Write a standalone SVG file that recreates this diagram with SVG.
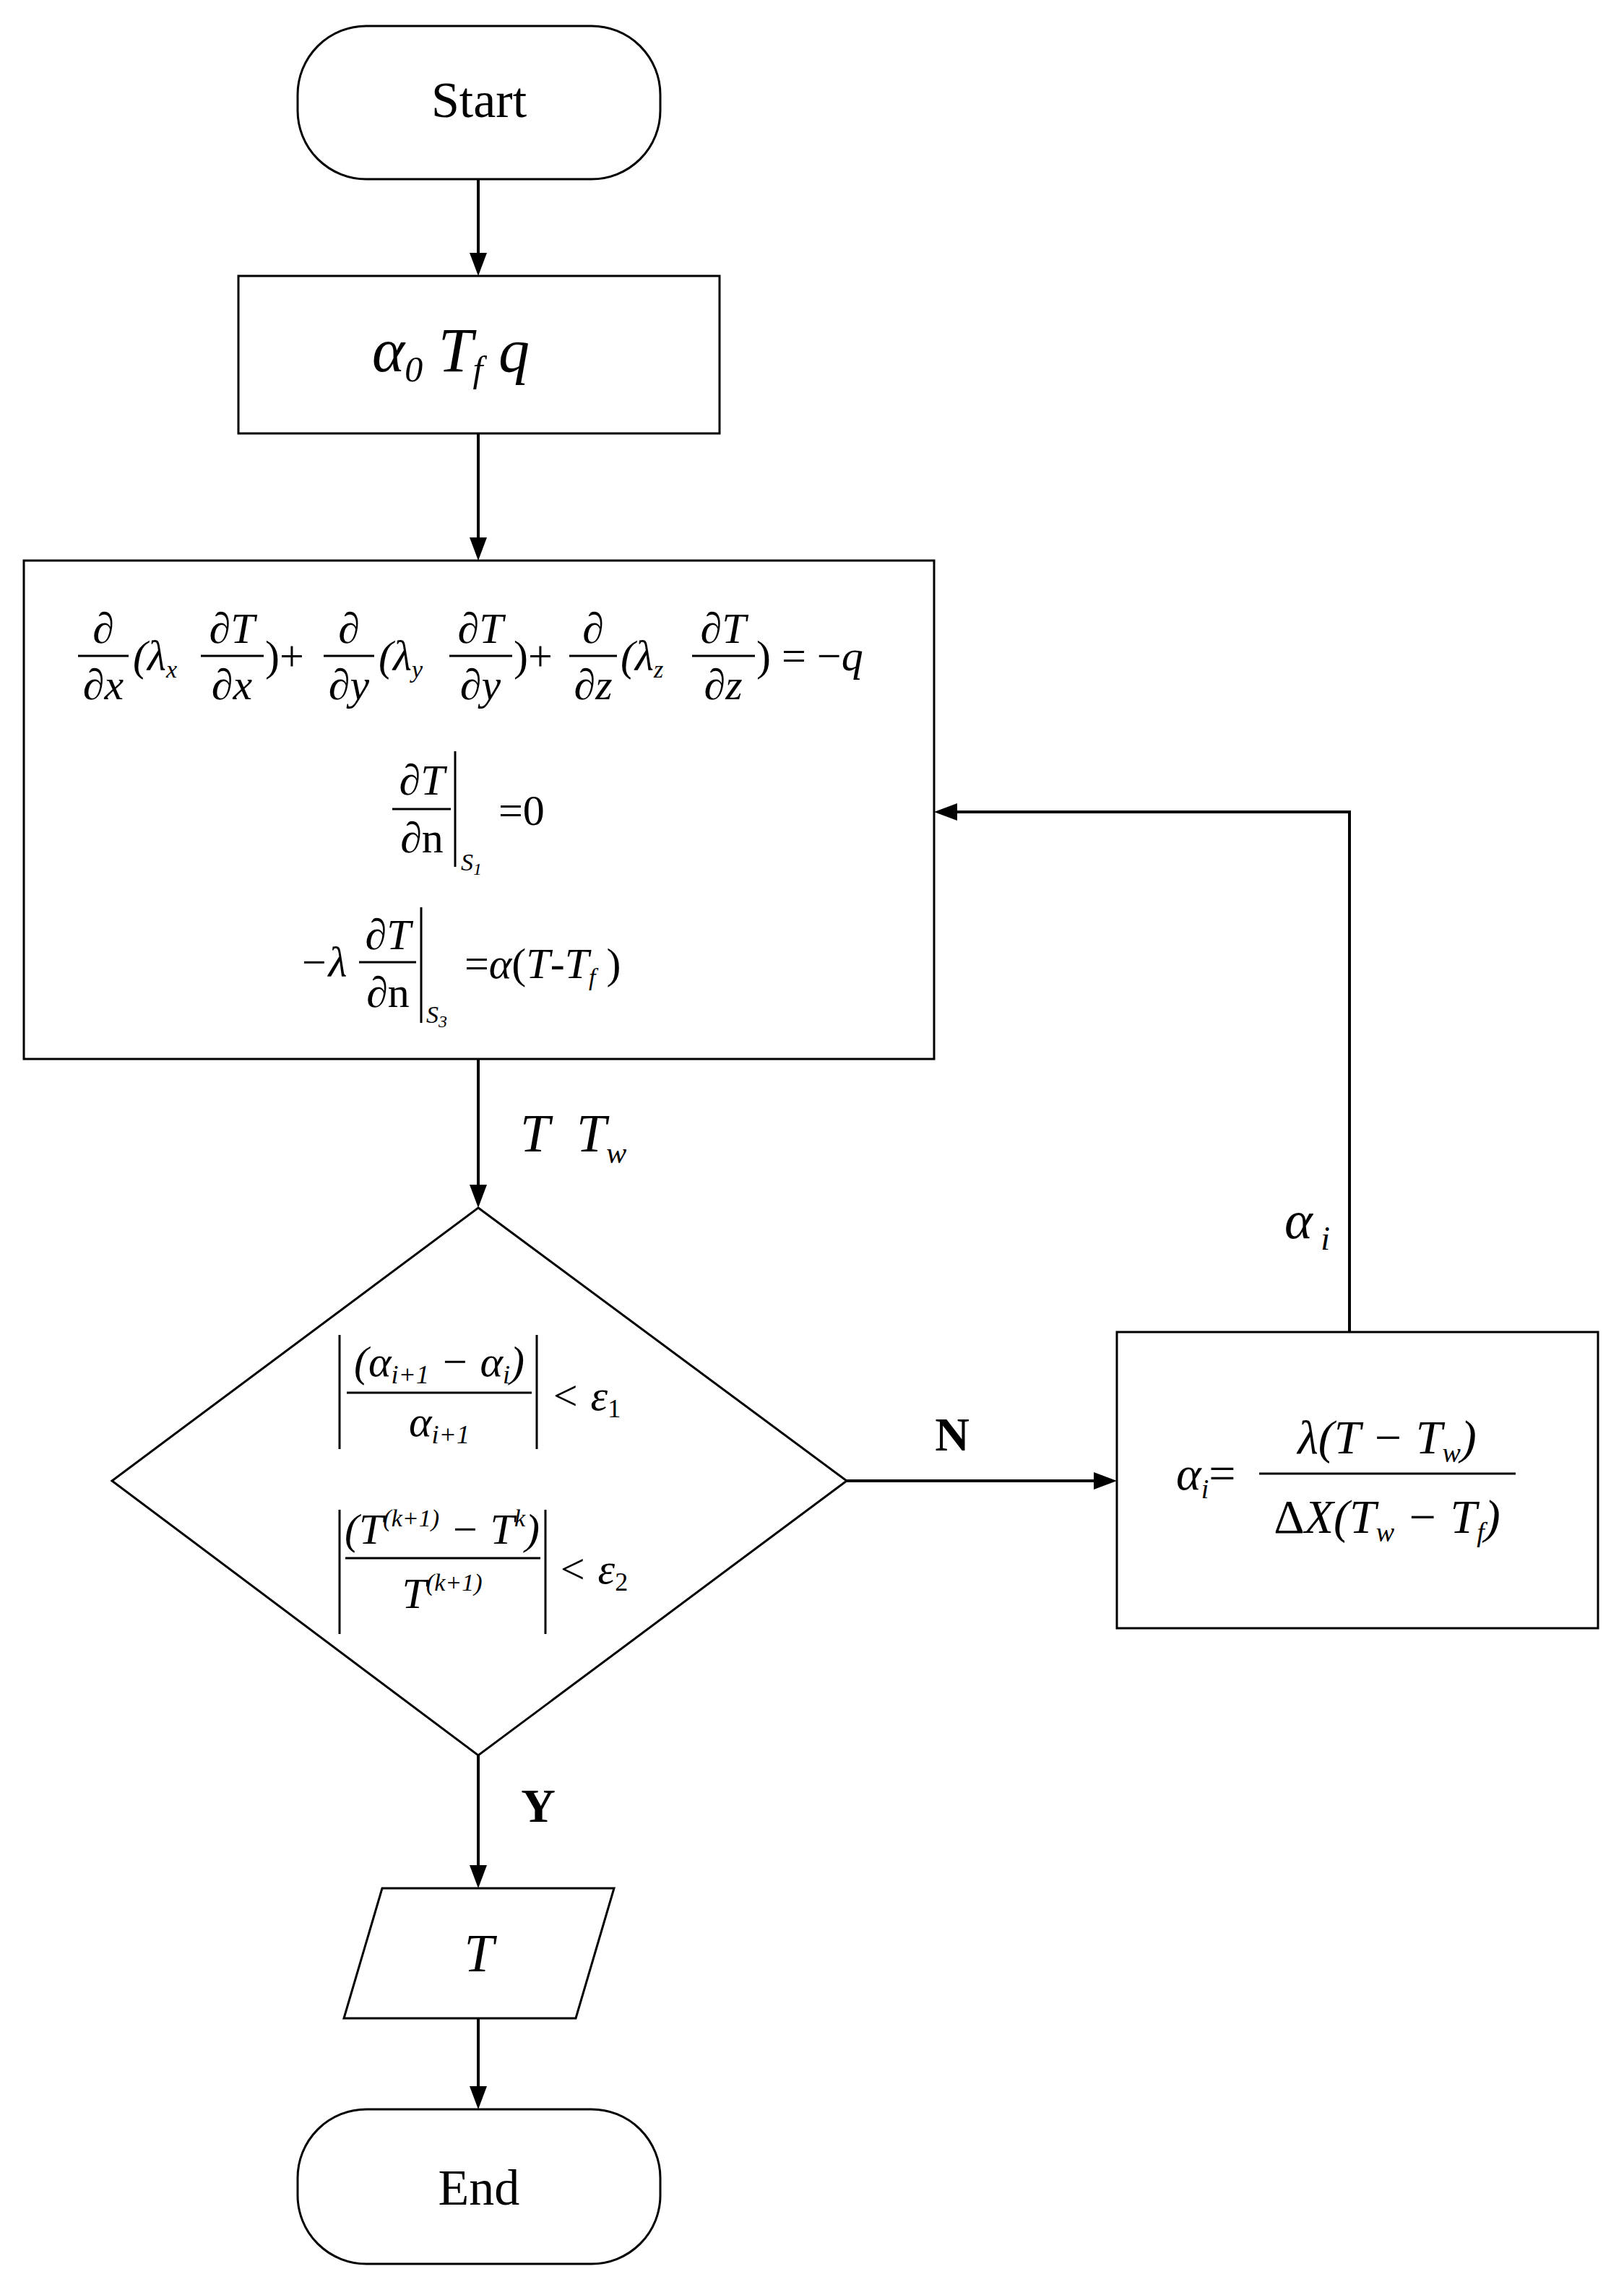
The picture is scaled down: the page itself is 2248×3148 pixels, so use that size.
<svg xmlns="http://www.w3.org/2000/svg" width="2248" height="3148" viewBox="0 0 2248 3148">
<style>
.n{fill:#fff;stroke:#000;stroke-width:3}
.c{fill:none;stroke:#000;stroke-width:4}
.t{font-family:"Liberation Serif",serif;fill:#000}
.i{font-family:"Liberation Serif",serif;font-style:italic;fill:#000}
.b{stroke:#000;stroke-width:3}
</style>
<rect width="2248" height="3148" fill="#fff"/>
<g id="connectors">
<line class="c" x1="662" y1="248" x2="662" y2="372"/>
<line class="c" x1="662" y1="600" x2="662" y2="766"/>
<line class="c" x1="662" y1="1466" x2="662" y2="1662"/>
<line class="c" x1="662" y1="2430" x2="662" y2="2604"/>
<line class="c" x1="662" y1="2794" x2="662" y2="2910"/>
<line class="c" x1="1172" y1="2050" x2="1536" y2="2050"/>
<polyline class="c" points="1868,1844 1868,1124 1303,1124"/>
<path d="M650,350 L674,350 L662,382 z M650,744 L674,744 L662,776 z M650,1640 L674,1640 L662,1672 z M650,2582 L674,2582 L662,2614 z M650,2888 L674,2888 L662,2920 z M1514,2038 L1514,2062 L1546,2050 z M1325,1112 L1325,1136 L1293,1124 z"/>
<text class="i" x="720" y="1594" font-size="74">T</text>
<text class="i" x="798" y="1594" font-size="74">T<tspan font-size="42" dy="16">w</tspan></text>
<text class="i" x="1778" y="1714" font-size="74">α<tspan font-size="46" dy="16"> i</tspan></text>
<text class="t" x="1318" y="2008" font-size="66" font-weight="bold" text-anchor="middle">N</text>
<text class="t" x="745" y="2522" font-size="66" font-weight="bold" text-anchor="middle">Y</text>
</g>
<g id="start">
<rect class="n" x="412" y="36" width="502" height="212" rx="95"/>
<text class="t" x="663" y="162" font-size="70" text-anchor="middle">Start</text>
</g>
<g id="input">
<rect class="n" x="330" y="382" width="666" height="218"/>
<text class="i" x="515" y="514" font-size="86">α<tspan font-size="50" dy="14">0</tspan><tspan dy="-14"> T</tspan><tspan font-size="50" dy="14">f</tspan><tspan dy="-14">  q</tspan></text>
</g>
<g id="solve">
<rect class="n" x="33" y="776" width="1260" height="690"/>
<g font-size="60">
<text class="i" x="143" y="890" text-anchor="middle">∂</text>
<line class="b" x1="108" y1="908" x2="178" y2="908"/>
<text class="i" x="143" y="968" text-anchor="middle">∂x</text>
<text class="i" x="184" y="928">(λ<tspan font-size="34" dy="10">x</tspan></text>
<text class="i" x="321" y="890" text-anchor="middle">∂T</text>
<line class="b" x1="278" y1="908" x2="365" y2="908"/>
<text class="i" x="321" y="968" text-anchor="middle">∂x</text>
<text class="t" x="367" y="928">)+</text>
<text class="i" x="483" y="890" text-anchor="middle">∂</text>
<line class="b" x1="448" y1="908" x2="518" y2="908"/>
<text class="i" x="483" y="968" text-anchor="middle">∂y</text>
<text class="i" x="524" y="928">(λ<tspan font-size="34" dy="10">y</tspan></text>
<text class="i" x="665" y="890" text-anchor="middle">∂T</text>
<line class="b" x1="622" y1="908" x2="709" y2="908"/>
<text class="i" x="665" y="968" text-anchor="middle">∂y</text>
<text class="t" x="711" y="928">)+</text>
<text class="i" x="821" y="890" text-anchor="middle">∂</text>
<line class="b" x1="788" y1="908" x2="854" y2="908"/>
<text class="i" x="821" y="968" text-anchor="middle">∂z</text>
<text class="i" x="859" y="928">(λ<tspan font-size="34" dy="10">z</tspan></text>
<text class="i" x="1001" y="890" text-anchor="middle">∂T</text>
<line class="b" x1="958" y1="908" x2="1045" y2="908"/>
<text class="i" x="1001" y="968" text-anchor="middle">∂z</text>
<text class="t" x="1047" y="928">) = −<tspan font-style="italic">q</tspan></text>
<text class="i" x="584" y="1100" text-anchor="middle">∂T</text>
<line class="b" x1="543" y1="1120" x2="624" y2="1120"/>
<text class="i" x="584" y="1180" text-anchor="middle">∂<tspan font-style="normal">n</tspan></text>
<line class="b" x1="630" y1="1040" x2="630" y2="1200"/>
<text class="i" x="638" y="1205" font-size="34">S<tspan font-size="24" dy="6">1</tspan></text>
<text class="t" x="690" y="1142">=0</text>
<text class="i" x="414" y="1352">−λ</text>
<text class="i" x="537" y="1314" text-anchor="middle">∂T</text>
<line class="b" x1="497" y1="1332" x2="576" y2="1332"/>
<text class="i" x="537" y="1394" text-anchor="middle">∂<tspan font-style="normal">n</tspan></text>
<line class="b" x1="583" y1="1256" x2="583" y2="1416"/>
<text class="i" x="590" y="1416" font-size="34">S<tspan font-size="24" dy="6">3</tspan></text>
<text class="t" x="643" y="1354">=<tspan font-style="italic">α</tspan>(<tspan font-style="italic">T</tspan>-<tspan font-style="italic">T</tspan><tspan font-size="34" font-style="italic" dy="10">f</tspan><tspan dy="-10"> )</tspan></text>
</g>
</g>
<g id="check">
<polygon class="n" points="662,1672 1172,2050 662,2430 155,2050"/>
<g font-size="60">
<line class="b" x1="470" y1="1848" x2="470" y2="2006"/>
<line class="b" x1="743" y1="1848" x2="743" y2="2006"/>
<line class="b" x1="480" y1="1928" x2="736" y2="1928"/>
<text class="i" x="608" y="1905" text-anchor="middle">(α<tspan font-size="36" dy="10">i+1</tspan><tspan dy="-10"> − α</tspan><tspan font-size="36" dy="10">i</tspan><tspan dy="-10">)</tspan></text>
<text class="i" x="608" y="1988" text-anchor="middle">α<tspan font-size="36" dy="10">i+1</tspan></text>
<text class="i" x="762" y="1952">&lt; ε<tspan font-style="normal" font-size="36" dy="10">1</tspan></text>
<line class="b" x1="470" y1="2090" x2="470" y2="2262"/>
<line class="b" x1="755" y1="2090" x2="755" y2="2262"/>
<line class="b" x1="478" y1="2157" x2="748" y2="2157"/>
<text class="i" x="612" y="2137" text-anchor="middle">(T<tspan font-size="34" dy="-24">(k+1)</tspan><tspan dy="24"> − T</tspan><tspan font-size="34" dy="-24">k</tspan><tspan dy="24">)</tspan></text>
<text class="i" x="612" y="2226" text-anchor="middle">T<tspan font-size="34" dy="-24">(k+1)</tspan></text>
<text class="i" x="772" y="2192">&lt; ε<tspan font-style="normal" font-size="36" dy="10">2</tspan></text>
</g>
</g>
<g id="update">
<rect class="n" x="1546" y="1844" width="666" height="410"/>
<g font-size="66">
<text class="i" x="1628" y="2062">α<tspan font-size="38" dy="12">i</tspan><tspan font-style="normal" dy="-12">=</tspan></text>
<line class="b" x1="1743" y1="2040" x2="2098" y2="2040"/>
<text class="i" x="1920" y="2012" text-anchor="middle">λ(T − T<tspan font-size="38" dy="12">w</tspan><tspan dy="-12">)</tspan></text>
<text class="i" x="1920" y="2122" text-anchor="middle"><tspan font-style="normal">Δ</tspan>X(T<tspan font-size="38" dy="12">w</tspan><tspan dy="-12"> − T</tspan><tspan font-size="38" dy="12">f</tspan><tspan dy="-12">)</tspan></text>
</g>
</g>
<g id="output">
<polygon class="n" points="529,2614 850,2614 797,2794 476,2794"/>
<text class="i" x="663" y="2729" font-size="74" text-anchor="middle">T</text>
</g>
<g id="end">
<rect class="n" x="412" y="2920" width="502" height="214" rx="95"/>
<text class="t" x="663" y="3052" font-size="70" text-anchor="middle">End</text>
</g>
</svg>
